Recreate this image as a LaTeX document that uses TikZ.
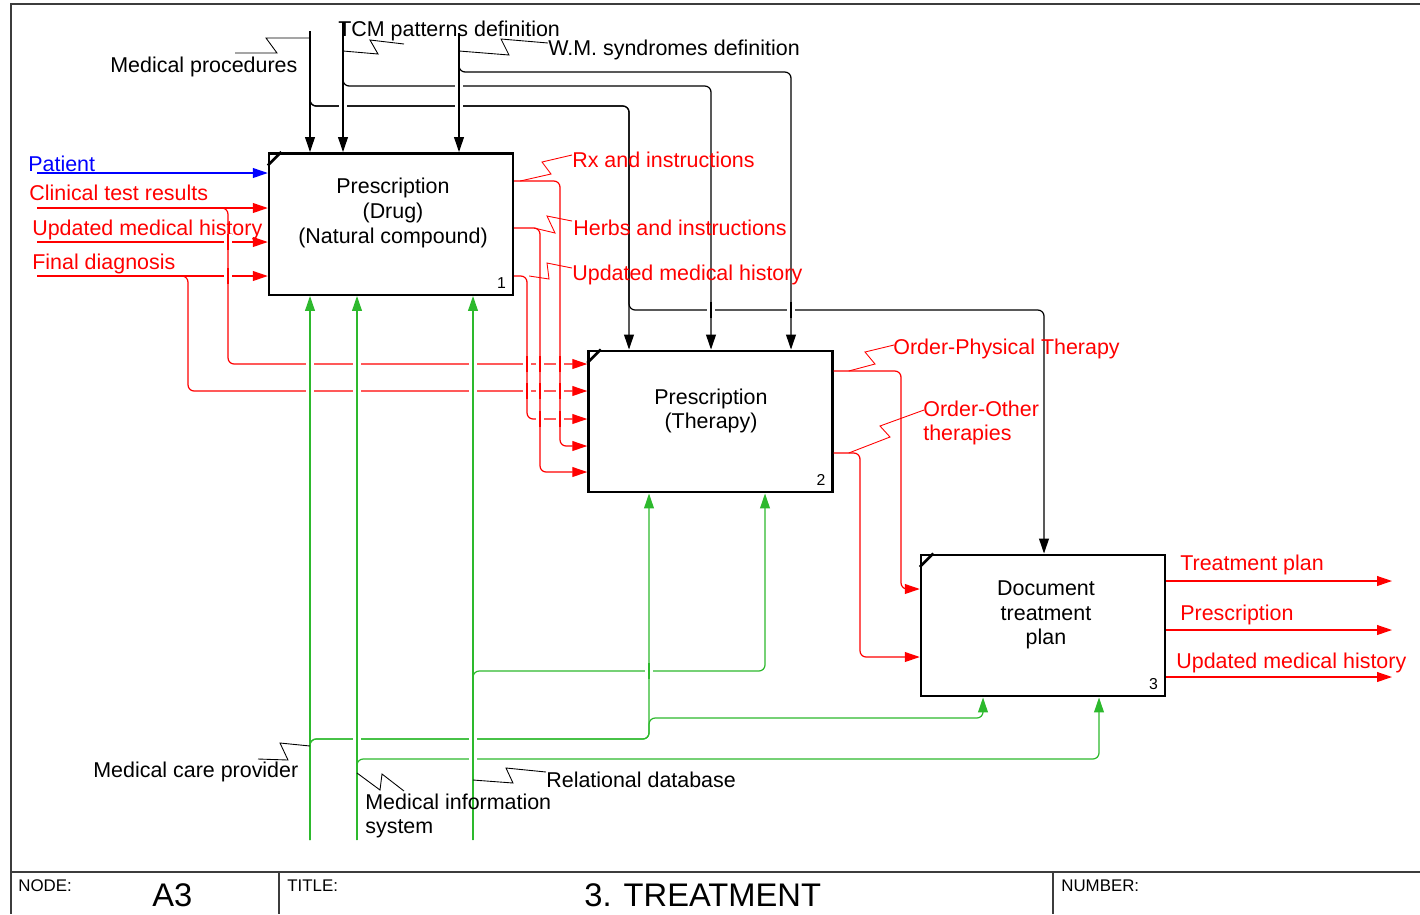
\documentclass[tikz,border=0pt]{standalone}
\usepackage{fontspec}
\setmainfont{Liberation Sans}
\usetikzlibrary{arrows.meta,positioning}
\definecolor{idefred}{RGB}{255,0,0}
\definecolor{idefgreen}{RGB}{45,185,45}
\definecolor{idefblue}{RGB}{0,0,255}
\definecolor{framegray}{RGB}{60,60,60}
\newcommand\lblfont{\fontsize{12.2pt}{14pt}\selectfont}
\newcommand\numfont{\fontsize{9pt}{10pt}\selectfont}
\newcommand\tagfont{\fontsize{9.6pt}{11pt}\selectfont}
\newcommand\bigfont{\fontsize{18.6pt}{20pt}\selectfont}
\tikzset{
activity/.style={draw,line width=1.4pt,minimum width=4.88cm,minimum height=2.83cm,inner sep=0pt},
acttext/.style={font=\lblfont,align=center,inner sep=0pt},
actnum/.style={font=\numfont,inner sep=0pt},
lbl/.style={font=\lblfont,inner sep=0pt,anchor=west},
tag/.style={inner sep=0pt,anchor=west},
arr/.style={line width=0.7pt,rounded corners=3.5pt,-{Triangle[length=8.5pt,width=5.6pt]}},
ctrl/.style={arr,draw=black},
inred/.style={arr,draw=idefred},
inblue/.style={arr,draw=idefblue},
mech/.style={arr,draw=idefgreen},
leader/.style={line width=0.5pt},
bridge/.style={line width=0.7pt,preaction={draw=white,line width=4.5pt}}
}
\begin{document}
\begin{tikzpicture}[x=0.02cm,y=-0.02cm]
\useasboundingbox (0,0) rectangle (1420,914);
% frame and title bar
\draw[framegray,line width=0.9pt] (1420,4) -- (11,4) -- (11,914);
\draw[framegray,line width=0.9pt] (11,872) -- (1420,872);
\draw[framegray,line width=0.6pt] (279,872) -- (279,914) (1053,872) -- (1053,914);
\node[tag,font=\tagfont] (tnode) at (18,886) {NODE:};
\node[tag,font=\bigfont] (tA) at (152,895) {A3};
\node[tag,font=\tagfont] (ttitle) at (287,886) {TITLE:};
\node[tag,font=\bigfont] (tname) at (584,895) {3. TREATMENT};
\node[tag,font=\tagfont] (tnum) at (1061,886) {NUMBER:};
% activities
\node[activity] (b1) at (391,224) {};
\node[activity] (b2) at (710.5,421.5) {};
\node[activity] (b3) at (1043,625.5) {};
\node[acttext] (t1) at (393,213) {Prescription\\(Drug)\\(Natural compound)};
\node[acttext] (t2) at (711,411) {Prescription\\(Therapy)};
\node[acttext] (t3) at (1046,615) {Document\\treatment\\plan};
\node[actnum,above left=4.3pt and 4.5pt of b1.south east] (n1) {1};
\node[actnum,above left=4.3pt and 4.5pt of b2.south east] (n2) {2};
\node[actnum,above left=4.3pt and 4.5pt of b3.south east] (n3) {3};
\foreach \b in {b1,b2,b3}
\draw[line width=1.5pt] ([yshift=-0.27cm]\b.north west) -- ([xshift=0.27cm]\b.north west);
% controls
\coordinate (mp) at (310,31);
\coordinate (tcm) at (343,22);
\coordinate (wm) at (459,33);
\coordinate (c2a) at (629,106);
\coordinate (c2b) at (711,86);
\coordinate (c2c) at (791,72);
\coordinate (c3a) at (1044,310);
\draw[ctrl] (mp) -- (mp |- b1.north);
\draw[ctrl] (tcm) -- (tcm |- b1.north);
\draw[ctrl] (wm) -- (wm |- b1.north);
\draw[ctrl] (mp) |- (c2a) -- (c2a |- b2.north);
\draw[ctrl] (tcm) |- (c2b) -- (c2b |- b2.north);
\draw[ctrl] (wm) |- (c2c) -- (c2c |- b2.north);
\draw[ctrl] (mp) |- (c2a) |- (c3a) -- (c3a |- b3.north);
\node[lbl] (lmp) at (110,67) {Medical procedures};
\node[lbl] (ltcm) at (338,31) {TCM patterns definition};
\node[lbl] (lwm) at (548,50) {W.M. syndromes definition};
\draw[leader] (mp |- 0,38) -- (266,38) -- (277,53) -- ([shift={(125,-14)}]lmp.west);
\draw[leader] (tcm |- 0,51) -- (378,54) -- (370,40) -- ([shift={(66,13)}]ltcm.west);
\draw[leader] (wm |- 0,51) -- (509,55) -- (501,39) -- ([shift={(0,-7)}]lwm.west);
% inputs
\coordinate (pat) at (37,173);
\coordinate (clin) at (37,208);
\coordinate (umh) at (37,242);
\coordinate (fd) at (37,276);
\coordinate (k1) at (228,364);
\coordinate (k2) at (188,391);
\draw[inblue] (pat) -- (pat -| b1.west);
\draw[inred] (clin) -- (clin -| b1.west);
\draw[inred] (umh) -- (umh -| b1.west);
\draw[inred] (fd) -- (fd -| b1.west);
\draw[inred] (clin) -| (k1) -- (k1 -| b2.west);
\draw[inred] (fd) -| (k2) -- (k2 -| b2.west);
\node[lbl,text=idefblue] (lpat) at (28,164) {Patient};
\node[lbl,text=idefred] (lclin) at (29,193) {Clinical test results};
\node[lbl,text=idefred] (lumh) at (32,230) {Updated medical history};
\node[lbl,text=idefred] (lfd) at (32,264) {Final diagnosis};
% outputs of 1
\coordinate (o1) at (b1.east |- 0,181);
\coordinate (o2) at (b1.east |- 0,228);
\coordinate (o3) at (b1.east |- 0,276);
\coordinate (r1) at (560,446);
\coordinate (r2) at (540,472);
\coordinate (r3) at (527,419);
\draw[inred] (o1) -| (r1) -- (r1 -| b2.west);
\draw[inred] (o2) -| (r2) -- (r2 -| b2.west);
\draw[inred] (o3) -| (r3) -- (r3 -| b2.west);
\node[lbl,text=idefred] (lrx) at (572,160) {Rx and instructions};
\node[lbl,text=idefred] (lherb) at (573,228) {Herbs and instructions};
\node[lbl,text=idefred] (lumh2) at (572,275) {Updated medical history};
\draw[leader,idefred] ([xshift=0.12cm]o1) -- (551,174) -- (542,162) -- ([shift={(0,-5)}]lrx.west);
\draw[leader,idefred] ([xshift=0.4cm]o2) -- (555,233) -- (547,216) -- ([shift={(-1,-7)}]lherb.west);
\draw[leader,idefred] ([xshift=0.3cm]o3) -- (549,279) -- (547,263) -- ([shift={(0,-7)}]lumh2.west);
% outputs of 2
\coordinate (o4) at (b2.east |- 0,371);
\coordinate (o5) at (b2.east |- 0,453);
\coordinate (r4) at (901,589);
\coordinate (r5) at (860,657);
\draw[inred] (o4) -| (r4) -- (r4 -| b3.west);
\draw[inred] (o5) -| (r5) -- (r5 -| b3.west);
\node[lbl,text=idefred] (lopt) at (893,349) {Order-Physical Therapy};
\node[lbl,text=idefred,align=left] (loot) at (923,423) {Order-Other\\therapies};
\draw[leader,idefred] ([xshift=0.3cm]o4) -- (875,364) -- (865,352) -- ([shift={(1,-4)}]lopt.west);
\draw[leader,idefred] ([xshift=0.3cm]o5) -- (890,437) -- (880,426) -- ([shift={(1,-13)}]loot.west);
% outputs of 3
\coordinate (tp) at (1392,581);
\coordinate (pr) at (1392,630);
\coordinate (um3) at (1392,677);
\draw[inred] (b3.east |- tp) -- (tp);
\draw[inred] (b3.east |- pr) -- (pr);
\draw[inred] (b3.east |- um3) -- (um3);
\node[lbl,text=idefred] (ltp) at (1180,565) {Treatment plan};
\node[lbl,text=idefred] (lpr) at (1180,615) {Prescription};
\node[lbl,text=idefred] (lum3) at (1176,663) {Updated medical history};
% mechanisms
\coordinate (mcp) at (310,840);
\coordinate (mis) at (357,840);
\coordinate (rdb) at (473,840);
\coordinate (g1) at (649,739);
\coordinate (g2) at (983,718);
\coordinate (g3) at (1099,759);
\coordinate (g4) at (765,671);
\draw[mech] (mcp) -- (mcp |- b1.south);
\draw[mech] (mis) -- (mis |- b1.south);
\draw[mech] (rdb) -- (rdb |- b1.south);
\draw[mech] (mcp) |- (g1) -- (g1 |- b2.south);
\draw[mech] (mcp) |- (g1) |- (g2) -- (g2 |- b3.south);
\draw[mech] (mis) |- (g3) -- (g3 |- b3.south);
\draw[mech] (rdb) |- (g4) -- (g4 |- b2.south);
\node[lbl] (lmcp) at (93,772) {Medical care provider};
\node[lbl,align=left] (lmis) at (365,816) {Medical information\\system};
\node[lbl] (lrdb) at (546,780) {Relational database};
\draw[leader] (mcp |- 0,746) -- (280,743) -- (288,760) -- ([shift={(165,-13)}]lmcp.west);
\draw[leader] (mis |- 0,773) -- (380,790) -- (382,774) -- ([shift={(39,-25)}]lmis.west);
\draw[leader] (rdb |- 0,780) -- (513,783) -- (506,768) -- ([shift={(0,-8)}]lrdb.west);
% crossings
\foreach \x/\y in {343/106,459/106,459/86,711/310,791/310}
\draw[bridge,draw=black] (\x,\y-8) -- (\x,\y+8);
\foreach \x/\y in {228/242,228/276,527/364,540/364,560/364,527/391,540/391,560/391,540/419,560/419}
\draw[bridge,draw=idefred] (\x,\y-8) -- (\x,\y+8);
\foreach \x/\y in {310/364,357/364,473/364,310/391,357/391,473/391,357/739,473/739,473/759,649/671}
\draw[bridge,draw=idefgreen] (\x,\y-8) -- (\x,\y+8);
\end{tikzpicture}
\end{document}
